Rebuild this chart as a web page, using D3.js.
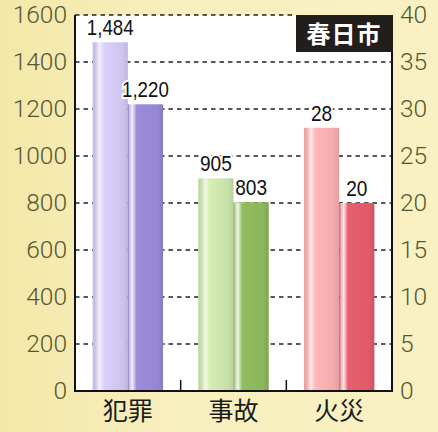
<!DOCTYPE html>
<html><head><meta charset="utf-8">
<script src="https://cdn.jsdelivr.net/npm/d3@7"></script>
<style>body{margin:0;background:#f8efbd;overflow:hidden}</style>
</head><body><svg id="c" width="438" height="432"></svg>
<script>
const categories = ["犯罪", "事故", "火災"];
const series1 = [1484, 905, 28];
const series2 = [1220, 803, 20];
const labels1 = ["1,484", "905", "28"];
const labels2 = ["1,220", "803", "20"];
const leftTicks = [0, 200, 400, 600, 800, 1000, 1200, 1400, 1600];
const rightTicks = [0, 5, 10, 15, 20, 25, 30, 35, 40];
const useRight = [false, false, true];
const title = "春日市";
const lightColors = ["#cdc3ec", "#c6dfa6", "#f2aaac"];
const darkColors = ["#9686d2", "#8bb65b", "#e05b69"];

const svg = d3.select("#c");
const L = 75, R = 392, T = 15, B = 391;

// background
const defs = svg.append("defs");
const bg = defs.append("linearGradient").attr("id", "bg").attr("x1", 0).attr("x2", 1).attr("y1", 0).attr("y2", 0);
bg.append("stop").attr("offset", "0%").attr("stop-color", "#f4e7a8");
bg.append("stop").attr("offset", "40%").attr("stop-color", "#f8efbe");
bg.append("stop").attr("offset", "100%").attr("stop-color", "#f9f1c2");
svg.append("rect").attr("width", 438).attr("height", 432).attr("fill", "url(#bg)");

const yL = d3.scaleLinear().domain([0, 1600]).range([B, T]);
const yR = d3.scaleLinear().domain([0, 40]).range([B, T]);
const x = d3.scaleBand().domain(categories).range([L, R]).padding(0);
const xs = d3.scaleBand().domain([0, 1]).range([0, x.bandwidth()]).paddingInner(0).paddingOuter(0.5);

svg.append("rect").attr("x", L).attr("y", T).attr("width", R - L).attr("height", B - T).attr("fill", "#ffffff");

// gridlines
svg.append("g").selectAll("line").data(leftTicks.filter(d => d > 0)).join("line")
  .attr("x1", L).attr("x2", d => d === 1600 ? 296 : R)
  .attr("y1", d => yL(d)).attr("y2", d => yL(d))
  .attr("stroke", "#222").attr("stroke-width", 1.6).attr("stroke-dasharray", "4.5,4");

// bars
function grad(id, c, light) {
  const g = defs.append("linearGradient").attr("id", id).attr("x1", 0).attr("x2", 1).attr("y1", 0).attr("y2", 0);
  const cc = d3.color(c);
  const stops = light ?
    [[0, cc.darker(0.15)], [0.08, cc], [0.2, d3.interpolateRgb(c, "#fff")(0.75)], [0.32, cc.brighter(0.2)], [0.85, cc], [1, cc.darker(0.2)]] :
    [[0, cc.darker(0.4)], [0.05, d3.interpolateRgb(c, "#fff")(0.5)], [0.13, d3.interpolateRgb(c, "#fff")(0.85)], [0.25, cc.brighter(0.1)], [0.85, cc], [1, cc.darker(0.25)]];
  stops.forEach(s => g.append("stop").attr("offset", s[0]).attr("stop-color", s[1]));
}
categories.forEach((c, i) => {
  grad("g1_" + i, lightColors[i], true);
  grad("g2_" + i, darkColors[i], false);
});

function labelWidth(s) {
  let w = 0;
  for (const ch of s) w += ch === "," ? 4.5 : 10.6;
  return w;
}

const bars = svg.append("g");
categories.forEach((c, i) => {
  const y = useRight[i] ? yR : yL;
  [[series1, 0, labels1], [series2, 1, labels2]].forEach(([s, k, lab]) => {
    const x0 = x(c) + xs(k);
    bars.append("rect").attr("x", x0).attr("y", y(s[i])).attr("width", xs.bandwidth()).attr("height", B - y(s[i]))
      .attr("fill", `url(#g${k + 1}_${i})`);
    bars.append("text").attr("x", x0 + xs.bandwidth() / 2).attr("y", y(s[i]) - 7)
      .attr("text-anchor", "middle").attr("font-family", "Liberation Sans, Arial, sans-serif").attr("font-size", 21.5)
      .attr("fill", "#111").attr("stroke", "#fff").attr("stroke-width", 4).attr("paint-order", "stroke")
      .attr("textLength", labelWidth(lab[i])).attr("lengthAdjust", "spacingAndGlyphs")
      .text(lab[i]);
  });
});

// axes lines
svg.append("line").attr("x1", L).attr("x2", L).attr("y1", T).attr("y2", B).attr("stroke", "#111").attr("stroke-width", 2);
svg.append("line").attr("x1", R).attr("x2", R).attr("y1", T).attr("y2", B).attr("stroke", "#111").attr("stroke-width", 2);
svg.append("line").attr("x1", L - 1).attr("x2", R + 1).attr("y1", B).attr("y2", B).attr("stroke", "#111").attr("stroke-width", 2);
svg.append("g").selectAll("line").data(categories.slice(1)).join("line")
  .attr("x1", d => x(d)).attr("x2", d => x(d)).attr("y1", B - 11).attr("y2", B)
  .attr("stroke", "#111").attr("stroke-width", 1.5);

// tick labels
const fontTick = "Roboto, 'Open Sans', sans-serif";
const ga = svg.append("g").attr("transform", `translate(${L},0)`)
  .call(d3.axisLeft(yL).tickValues(leftTicks).tickSize(0).tickPadding(8).tickFormat(d3.format("d")));
ga.select(".domain").remove();
ga.selectAll("text").attr("font-family", fontTick).attr("font-weight", 300).attr("font-size", 24.5).attr("fill", "#545733");
const gb = svg.append("g").attr("transform", `translate(${R},0)`)
  .call(d3.axisRight(yR).tickValues(rightTicks).tickSize(0).tickPadding(8).tickFormat(d3.format("d")));
gb.select(".domain").remove();
gb.selectAll("text").attr("font-family", fontTick).attr("font-weight", 300).attr("font-size", 24.5).attr("fill", "#545733");

// category labels
svg.append("g").selectAll("text").data(categories).join("text")
  .attr("x", d => x(d) + x.bandwidth() / 2).attr("y", 420).attr("text-anchor", "middle")
  .attr("font-family", "'Noto Sans CJK JP', sans-serif").attr("font-size", 25).attr("fill", "#1a1a1a")
  .text(d => d);

// title box
svg.append("rect").attr("x", 296).attr("y", T).attr("width", R - 296 + 1).attr("height", 37).attr("fill", "#221e1b");
svg.append("text").attr("x", 344).attr("y", 43).attr("text-anchor", "middle")
  .attr("font-family", "'Noto Sans CJK JP', sans-serif").attr("font-weight", 700).attr("font-size", 24)
  .attr("letter-spacing", 1).attr("fill", "#fff").text(title);
</script></body></html>
